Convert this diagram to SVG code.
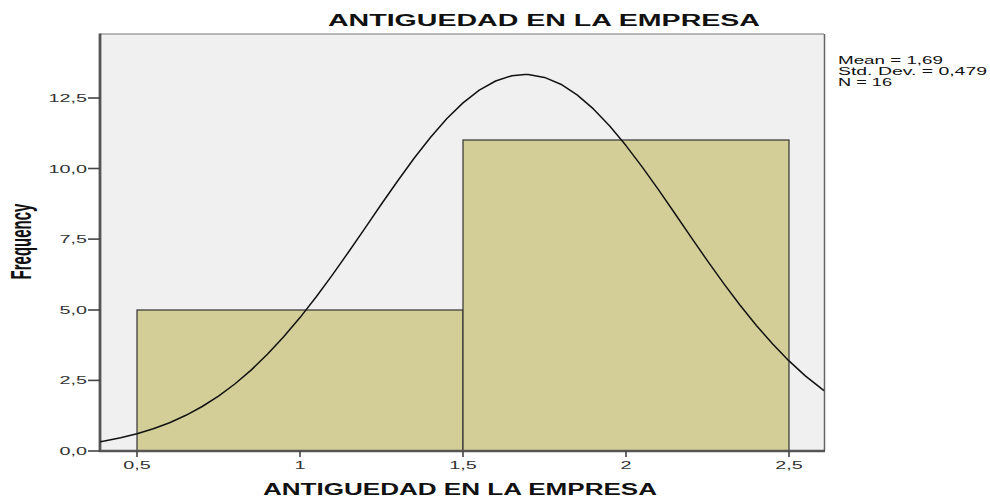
<svg xmlns="http://www.w3.org/2000/svg" width="990" height="498" viewBox="0 0 990 498">
<style>
.t{font-family:"Liberation Sans",Arial,sans-serif;fill:#111}
.tick{font-family:"Liberation Sans",Arial,sans-serif;font-size:11px;fill:#333}
.bold{font-weight:bold}
.bar{fill:#d3ce98;stroke:#333;stroke-width:1.2}
.tk{stroke:#444;stroke-width:1.6}
</style>
<rect width="990" height="498" fill="#fff"/>
<g id="plot-area">
<rect x="100" y="34" width="724" height="417" fill="#f0f0f0"/>
<line x1="100" y1="34" x2="824" y2="34" stroke="#777" stroke-width="1.2"/>
<line x1="824.5" y1="34" x2="824.5" y2="451" stroke="#666" stroke-width="1.5"/>
</g>
<g id="bars">
<rect id="bar1" class="bar" x="137" y="310" width="326" height="141"/>
<rect id="bar2" class="bar" x="463" y="140" width="326" height="311"/>
</g>
<g id="axes">
<line x1="100" y1="33.5" x2="100" y2="452" stroke="#555" stroke-width="2.8"/>
<line x1="99" y1="451" x2="825" y2="451" stroke="#555" stroke-width="2.4"/>
<g id="y-ticks">
<line class="tk" x1="88" y1="451" x2="100" y2="451"/>
<line class="tk" x1="88" y1="380.4" x2="100" y2="380.4"/>
<line class="tk" x1="88" y1="310" x2="100" y2="310"/>
<line class="tk" x1="88" y1="239.1" x2="100" y2="239.1"/>
<line class="tk" x1="88" y1="168.5" x2="100" y2="168.5"/>
<line class="tk" x1="88" y1="98" x2="100" y2="98"/>
</g>
<g id="x-ticks">
<line class="tk" x1="137" y1="451" x2="137" y2="457"/>
<line class="tk" x1="300" y1="451" x2="300" y2="457"/>
<line class="tk" x1="463" y1="451" x2="463" y2="457"/>
<line class="tk" x1="626" y1="451" x2="626" y2="457"/>
<line class="tk" x1="789" y1="451" x2="789" y2="457"/>
</g>
<g id="y-labels" text-anchor="end">
<text class="tick" transform="translate(87,455) scale(1.8,1)">0,0</text>
<text class="tick" transform="translate(87,384.4) scale(1.8,1)">2,5</text>
<text class="tick" transform="translate(87,314) scale(1.8,1)">5,0</text>
<text class="tick" transform="translate(87,243.1) scale(1.8,1)">7,5</text>
<text class="tick" transform="translate(87,172.5) scale(1.8,1)">10,0</text>
<text class="tick" transform="translate(87,102) scale(1.8,1)">12,5</text>
</g>
<g id="x-labels" text-anchor="middle">
<text class="tick" transform="translate(137,469) scale(1.8,1)">0,5</text>
<text class="tick" transform="translate(300,469) scale(1.8,1)">1</text>
<text class="tick" transform="translate(463,469) scale(1.8,1)">1,5</text>
<text class="tick" transform="translate(626,469) scale(1.8,1)">2</text>
<text class="tick" transform="translate(789,469) scale(1.8,1)">2,5</text>
</g>
</g>
<g id="normal-curve">
<path fill="none" stroke="#111" stroke-width="1.5" stroke-linejoin="round" d="M100.2,441.7 L104.4,441.0 L120.7,437.8 L137,433.8 L153.3,428.8 L169.6,422.7 L185.9,415.3 L202.2,406.5 L218.5,396.1 L234.8,384.0 L251.1,370.1 L267.4,354.3 L283.7,336.8 L300,317.6 L316.3,296.8 L332.6,274.6 L348.9,251.5 L365.2,227.8 L381.5,204.0 L397.8,180.7 L414.1,158.3 L430.4,137.5 L446.7,118.8 L463,102.9 L479.3,90.2 L495.6,81.0 L511.9,75.7 L524.9,74.4 L528.2,74.5 L544.5,77.4 L560.8,84.2 L577.1,94.9 L593.4,108.9 L609.7,126.0 L626,145.6 L642.3,167.1 L658.6,189.9 L674.9,213.5 L691.2,237.4 L707.5,260.9 L723.8,283.6 L740.1,305.3 L756.4,325.5 L772.7,344.0 L789,360.9 L805.3,375.9 L824,390.7"/>
</g>
<g id="titles">
<text class="t bold" x="328" y="26" font-size="16" textLength="432" lengthAdjust="spacingAndGlyphs">ANTIGUEDAD EN LA EMPRESA</text>
<text class="t bold" x="263" y="495" font-size="16" textLength="394" lengthAdjust="spacingAndGlyphs">ANTIGUEDAD EN LA EMPRESA</text>
<text class="t bold" font-size="15" text-anchor="middle" transform="translate(31,241.5) scale(1.95,1) rotate(-90)">Frequency</text>
</g>
<g id="stats" class="t" font-size="10">
<text x="838" y="64" textLength="105" lengthAdjust="spacingAndGlyphs">Mean = 1,69</text>
<text x="838" y="75" textLength="149" lengthAdjust="spacingAndGlyphs">Std. Dev. = 0,479</text>
<text x="838" y="86" textLength="54" lengthAdjust="spacingAndGlyphs">N = 16</text>
</g>
</svg>
